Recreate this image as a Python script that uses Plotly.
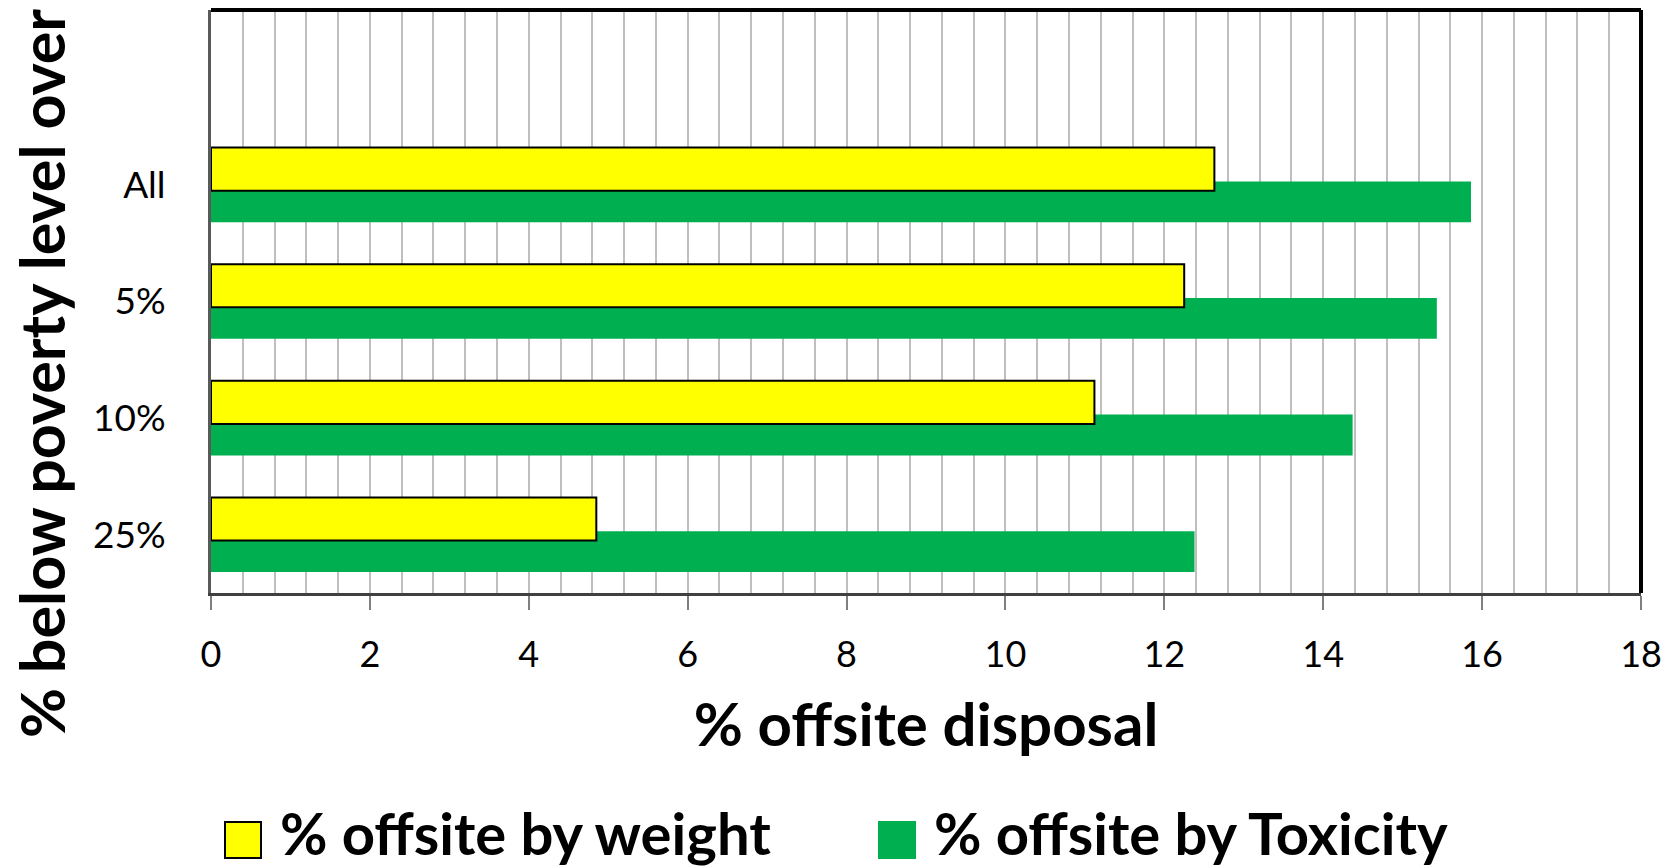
import plotly.graph_objects as go

# Poverty-level groups (bottom to top on the chart) and the two measures
groups = ["25%", "10%", "5%", "All"]
by_weight = [4.85, 11.12, 12.25, 12.63]
by_toxicity = [12.38, 14.37, 15.43, 15.86]

x_ticks = [0, 2, 4, 6, 8, 10, 12, 14, 16, 18]

YELLOW = "#FFFF00"
GREEN = "#00B050"
FONT = "Lato"

# Plot-area geometry in pixels
L, R, T, B = 211, 37, 10, 275
W, H = 1678 - L - R, 868 - T - B


def px_x(px):
    return (px - L) / W


def px_y(py):
    return (868 - B - py) / H


fig = go.Figure()

fig.add_trace(go.Bar(
    y=groups, x=by_toxicity, orientation="h",
    name="% offsite by Toxicity",
    marker=dict(color=GREEN, line=dict(width=0)),
    offset=-0.32, width=0.35,
))
fig.add_trace(go.Bar(
    y=groups, x=by_weight, orientation="h",
    name="% offsite by weight",
    marker=dict(color=YELLOW, line=dict(color="#000000", width=2)),
    offset=-0.05, width=0.37,
))

fig.update_layout(
    width=1678, height=868,
    margin=dict(l=L, r=R, t=T, b=B),
    paper_bgcolor="white", plot_bgcolor="white",
    barmode="overlay",
    showlegend=False,
    font=dict(family=FONT, color="#000000"),
)

fig.update_xaxes(
    range=[0, 18],
    tickvals=x_ticks,
    ticktext=[str(v) for v in x_ticks],
    tickfont=dict(family=FONT, size=36, color="#000000"),
    ticks="outside", ticklen=14, tickwidth=2, tickcolor="#7F7F7F",
    ticklabelstandoff=14,
    showgrid=True, gridcolor="#BFBFBF", gridwidth=2,
    minor=dict(dtick=0.4, showgrid=True, gridcolor="#BFBFBF", gridwidth=2, ticks=""),
    showline=True, linecolor="#404040", linewidth=3,
    zeroline=False,
    title=dict(text="<b>% offsite disposal</b>",
               font=dict(family=FONT, size=60, color="#000000"),
               standoff=30),
)

fig.update_yaxes(
    type="category",
    categoryorder="array", categoryarray=groups,
    range=[-0.5, 4.5],
    tickfont=dict(family=FONT, size=37, color="#000000"),
    ticks="", ticklabelstandoff=35,
    showgrid=False,
    showline=True, linecolor="#595959", linewidth=3,
    zeroline=False,
)

# Heavy frame on the top and right of the plot area
fig.add_shape(type="line", xref="paper", yref="paper", x0=0, x1=1, y0=1, y1=1,
              line=dict(color="#000000", width=4))
fig.add_shape(type="line", xref="paper", yref="paper", x0=1, x1=1, y0=0, y1=1,
              line=dict(color="#000000", width=4))

# Vertical axis title
fig.add_annotation(
    text="<b>% below poverty level over</b>",
    xref="paper", yref="paper", x=px_x(41), y=px_y(374),
    xanchor="center", yanchor="middle", textangle=-90, showarrow=False,
    font=dict(family=FONT, size=61, color="#000000"),
)

# Legend row along the bottom
legend_items = [("% offsite by weight", YELLOW, "#000000", 225),
                ("% offsite by Toxicity", GREEN, GREEN, 879)]
for label, fill, edge, px in legend_items:
    fig.add_shape(type="rect", xref="paper", yref="paper",
                  x0=px_x(px), x1=px_x(px + 36), y0=px_y(858), y1=px_y(822),
                  fillcolor=fill, line=dict(color=edge, width=2))
    fig.add_annotation(
        text="<b>" + label + "</b>", xref="paper", yref="paper",
        x=px_x(px + 53), y=px_y(832),
        xanchor="left", yanchor="middle", showarrow=False,
        font=dict(family=FONT, size=58, color="#000000"),
    )

fig.write_html("out.html")
